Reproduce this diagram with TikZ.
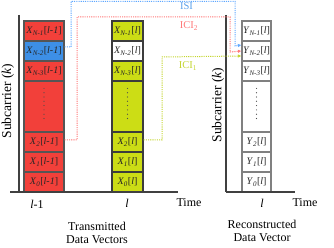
\documentclass[tikz,border=0pt]{standalone}
\usepackage{fontspec}
\setmainfont{Liberation Serif}
\usetikzlibrary{arrows.meta}
\definecolor{cellred}{HTML}{F2403A}
\definecolor{cellblue}{HTML}{3D8FE6}
\definecolor{cellgreen}{HTML}{CCDD15}
\definecolor{isiblue}{HTML}{5FA8FF}
\definecolor{icired}{HTML}{FF7878}
\definecolor{iciyellow}{HTML}{C4D530}
\definecolor{rim}{HTML}{555555}
\newcommand{\sym}[3]{\textit{#1}\textsubscript{\textit{#2}}[\textit{#3}]}
\tikzset{
  acell/.style={draw=rim, line width=1.2pt, fill=cellred, minimum width=40pt, minimum height=20pt, inner sep=0pt, font=\fontsize{10}{11}\selectfont, text=black!85},
  bcell/.style={acell, fill=cellgreen, minimum width=31pt, draw=rim!70!black},
  ycell/.style={acell, fill=white, minimum width=29pt, draw=gray},
  dotcol/.style={line width=1.2pt, dash pattern=on 0pt off 4.3pt, line cap=round, draw=black!70},
  axis/.style={line width=1.4pt, draw=black!75},
  tlabel/.style={font=\fontsize{12}{13.5}\selectfont, align=center},
  conn/.style={line width=1pt, dash pattern=on 1.1pt off 1.1pt, -{Latex[length=3.5pt,width=3.5pt]}}
}

\begin{document}
\begin{tikzpicture}[x=1pt, y=-1pt]
  \useasboundingbox (0,0) rectangle (334,248);
  % transmitted vector l-1
  \node[acell] (aN1) at (44,31) {\sym{X}{N-1}{l-1}};
  \node[acell, fill=cellblue] (aN2) at (44,51) {\sym{X}{N-2}{l-1}};
  \node[acell] (aN3) at (44,71) {\sym{X}{N-3}{l-1}};
  \node[acell, minimum height=51pt] (adots) at (44,106.5) {};
  \node[acell] (a2) at (44,142) {\sym{X}{2}{l-1}};
  \node[acell] (a1) at (44,162) {\sym{X}{1}{l-1}};
  \node[acell] (a0) at (44,182) {\sym{X}{0}{l-1}};
  % transmitted vector l
  \node[bcell] (bN1) at (127.5,31) {\sym{X}{N-1}{l}};
  \node[bcell, fill=white] (bN2) at (127.5,51) {\sym{X}{N-2}{l}};
  \node[bcell] (bN3) at (127.5,71) {\sym{X}{N-3}{l}};
  \node[bcell, minimum height=51pt] (bdots) at (127.5,106.5) {};
  \node[bcell] (b2) at (127.5,142) {\sym{X}{2}{l}};
  \node[bcell] (b1) at (127.5,162) {\sym{X}{1}{l}};
  \node[bcell] (b0) at (127.5,182) {\sym{X}{0}{l}};
  % reconstructed vector
  \node[ycell] (yN1) at (256.5,31) {\sym{Y}{N-1}{l}};
  \node[ycell] (yN2) at (256.5,51) {\sym{Y}{N-2}{l}};
  \node[ycell] (yN3) at (256.5,71) {\sym{Y}{N-3}{l}};
  \node[ycell, minimum height=51pt] (ydots) at (256.5,106.5) {};
  \node[ycell] (y2) at (256.5,142) {\sym{Y}{2}{l}};
  \node[ycell] (y1) at (256.5,162) {\sym{Y}{1}{l}};
  \node[ycell] (y0) at (256.5,182) {\sym{Y}{0}{l}};
  \foreach \c in {adots,bdots,ydots}
    \draw[dotcol] ([yshift=-8pt]\c.north) -- ([yshift=13pt]\c.south);

  % axes
  \draw[axis] (19,15) -- (19,192);
  \draw[axis] (10,192) -- (178,192);
  \draw[axis] (226,15) -- (226,192);
  \draw[axis] (226,192) -- (295,192);
  \node[rotate=90, font=\fontsize{13.5}{15}\selectfont] (subl) at (8,101) {Subcarrier (\textit{k})};
  \node[rotate=90, font=\fontsize{13.5}{15}\selectfont] (subr) at (218,105) {Subcarrier (\textit{k})};
  \node[tlabel] (timel) at (189,203) {Time};
  \node[tlabel] (timer) at (305,203) {Time};
  \node[tlabel] (idxa) at (37,204) {\textit{l}-1};
  \node[tlabel] (idxb) at (127,203) {\textit{l}};
  \node[tlabel] (idxy) at (262,203) {\textit{l}};
  \node[tlabel] (txlab) at (97,233) {Transmitted\\Data Vectors};
  \node[tlabel] (rxlab) at (262,231) {Reconstructed\\Data Vector};

  % interference paths
  \draw[conn, isiblue] ([yshift=4pt]aN2.east) -| (71,1.5) -| (235,46) -- ([yshift=6pt]yN2.west);
  \draw[conn, icired] ([yshift=2pt]a2.east) -| (77,17) -| (230,52) -- (yN2.west);
  \draw[conn, iciyellow] ([yshift=2pt]b2.east) -| (162,57) -- ([yshift=-5pt]yN2.west);
  \node[text=cellblue!85!white, font=\fontsize{10.5}{12}\selectfont] (isi) at (186.5,6.5) {ISI};
  \node[text=icired, font=\fontsize{10.5}{12}\selectfont] (ici2) at (189,26) {ICI\textsubscript{2}};
  \node[text=iciyellow, font=\fontsize{10.5}{12}\selectfont] (ici1) at (188,66) {ICI\textsubscript{1}};
\end{tikzpicture}
\end{document}
